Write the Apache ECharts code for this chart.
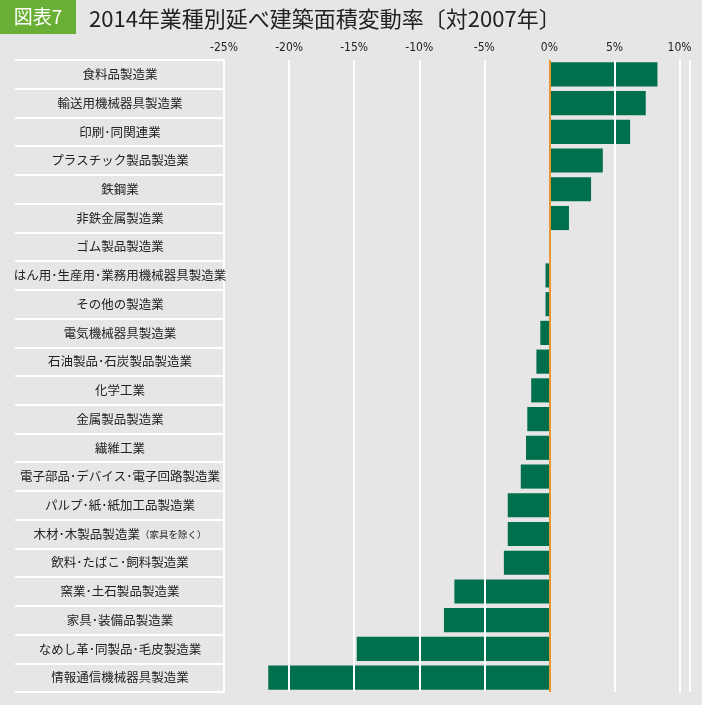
<!DOCTYPE html>
<html><head><meta charset="utf-8">
<script src="https://cdn.jsdelivr.net/npm/echarts@6/dist/echarts.min.js"></script>
<style>html,body{margin:0;background:#e6e6e6}#c{width:702px;height:705px}</style></head>
<body><div id="c"></div>
<script>
const categories=["食料品製造業","輸送用機械器具製造業","印刷・同関連業","プラスチック製品製造業","鉄鋼業","非鉄金属製造業","ゴム製品製造業","はん用・生産用・業務用機械器具製造業","その他の製造業","電気機械器具製造業","石油製品・石炭製品製造業","化学工業","金属製品製造業","繊維工業","電子部品・デバイス・電子回路製造業","パルプ・紙・紙加工品製造業","木材・木製品製造業（家具を除く）","飲料・たばこ・飼料製造業","窯業・土石製品製造業","家具・装備品製造業","なめし革・同製品・毛皮製造業","情報通信機械器具製造業"];
const values=[8.3,7.4,6.2,4.1,3.2,1.5,0.05,-0.3,-0.3,-0.7,-1.0,-1.4,-1.7,-1.8,-2.2,-3.2,-3.2,-3.5,-7.3,-8.1,-14.8,-21.6];
const gridValues=[-20,-15,-10,-5,5,10];
const chart=echarts.init(document.getElementById('c'));
chart.setOption({
 backgroundColor:'#e6e6e6',
 title:{text:'2014年業種別延べ建築面積変動率〔対2007年〕',left:84,top:3,textStyle:{fontSize:22,fontWeight:'normal',color:'#222',fontFamily:'Noto Sans CJK JP'}},
 graphic:[{type:'rect',shape:{x:0,y:0,width:76,height:34},style:{fill:'#6aaf35'}},
  {type:'text',x:38,y:17,style:{text:'図表7',fill:'#fff',fontSize:19,align:'center',verticalAlign:'middle',fontFamily:'Noto Sans CJK JP'}}],
 grid:{left:224,right:12,top:60,bottom:13},
 xAxis:{type:'value',position:'top',min:-25,max:10.8,interval:5,
  axisLabel:{formatter:v=>v>10?'':v+'%',fontSize:12,color:'#222',margin:6,fontFamily:'DejaVu Sans Condensed'},
  axisLine:{show:false},axisTick:{show:false},splitLine:{show:true,lineStyle:{color:'#fff',width:2}}},
 yAxis:{type:'category',data:categories,inverse:true,
  axisLine:{show:true,onZero:false,lineStyle:{color:'#fff',width:2}},
  axisTick:{show:true,length:209,lineStyle:{color:'#fff',width:2}},
  axisLabel:{align:'center',margin:104,fontSize:12.5,color:'#222',fontFamily:'Noto Sans CJK JP',
   formatter:v=>v.replace(/・/g,'･').replace('（家具を除く）','{s|（家具を除く）}'),rich:{s:{fontSize:9.5,color:'#222',fontFamily:'Noto Sans CJK JP'}}}},
 series:[{type:'bar',data:values,barCategoryGap:'16%',itemStyle:{color:'#006f4e'},
  markLine:{silent:true,symbol:'none',label:{show:false},animation:false,
   data:[...gridValues.map(v=>({xAxis:v,lineStyle:{color:'#fff',width:2,type:'solid'}})),{xAxis:0,lineStyle:{color:'#e8962e',width:2,type:'solid'}}]}}],
 animation:false
});
</script></body></html>
